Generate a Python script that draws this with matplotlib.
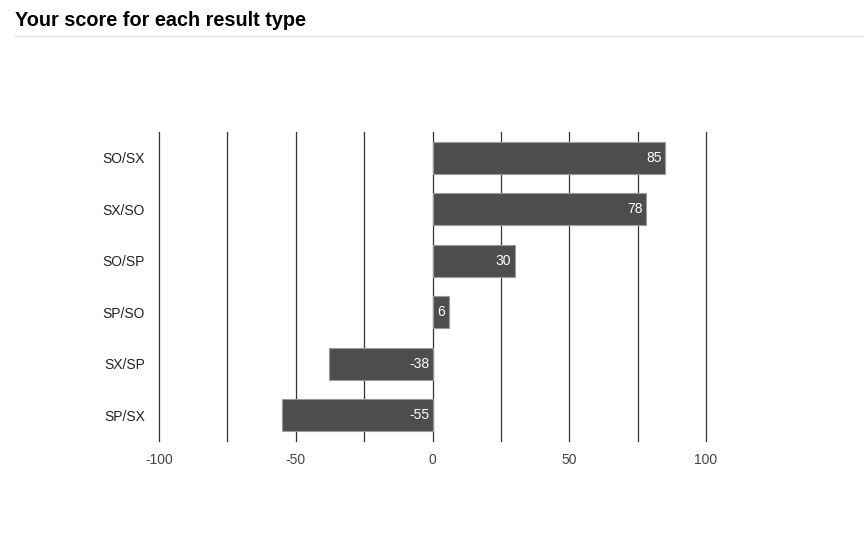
import matplotlib
matplotlib.use("Agg")
import matplotlib.pyplot as plt
from matplotlib.lines import Line2D

categories = ["SO/SX", "SX/SO", "SO/SP", "SP/SO", "SX/SP", "SP/SX"]
scores = [85, 78, 30, 6, -38, -55]
xticks = [-100, -50, 0, 50, 100]
title = "Your score for each result type"

plt.rcParams['font.family'] = ['Liberation Sans', 'DejaVu Sans']

fig = plt.figure(figsize=(8.64, 5.37), dpi=100)
ax = fig.add_axes([159/864, 1-441/537, (706-159)/864, (441-132)/537])

ypos = list(range(len(categories)))
ax.barh(ypos, scores, height=0.62, color='#4d4d4d', edgecolor='#9a9a9a',
        linewidth=0.8, zorder=3)

ax.set_xlim(-100, 100)
ax.set_ylim(len(categories) - 0.5, -0.5)
ax.set_yticks(ypos)
ax.set_yticklabels(categories, fontsize=10, color='#222222')
ax.set_xticks(xticks)
ax.set_xticklabels([str(t) for t in xticks], fontsize=10, color='#444444')
ax.set_xticks(range(-100, 101, 25), minor=True)
ax.tick_params(axis='both', which='both', length=0)
ax.tick_params(axis='y', pad=10)
ax.tick_params(axis='x', pad=9)
for s in ax.spines.values():
    s.set_visible(False)
ax.grid(True, axis='x', which='both', color='#333333', linewidth=0.9, zorder=1)
for t in ax.xaxis.get_major_ticks() + ax.xaxis.get_minor_ticks():
    t.gridline.set_clip_on(False)
ax.set_axisbelow(True)

for y, v in zip(ypos, scores):
    xr = max(v, 0)
    ax.annotate(str(v), xy=(xr, y), xytext=(-2.5, 0), textcoords='offset points',
                ha='right', va='center', color='white', fontsize=10, zorder=4)

fig.text(15/864, 1-20/537, title, fontsize=14.3, fontweight='bold',
         color='#000000', ha='left', va='center')
fig.add_artist(Line2D([15/864, 1.0], [1-36/537, 1-36/537], color='#e0e0e0',
                      linewidth=1, transform=fig.transFigure))

fig.savefig("out.png", dpi=100)
